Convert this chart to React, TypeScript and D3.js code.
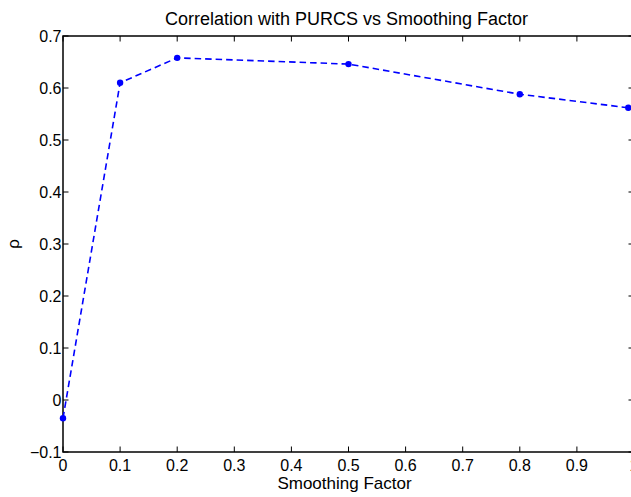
import React from "react";
import * as d3 from "d3";

const xValues = [0, 0.1, 0.2, 0.5, 0.8, 0.99];
const rhoValues = [-0.035, 0.61, 0.658, 0.646, 0.588, 0.562];
const xTicks = [0, 0.1, 0.2, 0.3, 0.4, 0.5, 0.6, 0.7, 0.8, 0.9, 1];
const yTicks = [-0.1, 0, 0.1, 0.2, 0.3, 0.4, 0.5, 0.6, 0.7];
const titleText = "Correlation with PURCS vs Smoothing Factor";
const xLabelText = "Smoothing Factor";
const yLabelText = "ρ";

const W = 631;
const H = 497;
const L = 63;
const R = 634;
const T = 36;
const B = 452;
const TL = 5.5;
const FONT = "'Liberation Sans', Arial, Helvetica, sans-serif";

export default function App() {
  const x = d3.scaleLinear().domain([0, 1]).range([L, R]);
  const y = d3.scaleLinear().domain([-0.1, 0.7]).range([B, T]);
  const pts: [number, number][] = xValues.map((v, i) => [v, rhoValues[i]]);
  const line = d3
    .line<[number, number]>()
    .x((d) => x(d[0]))
    .y((d) => y(d[1]));
  const fmt = (v: number) => {
    const s = d3.format(".1f")(v);
    if (v === 0) return "0";
    if (v === 1) return "1";
    return s.replace("-", "\u2212");
  };
  return (
    <svg
      width={W}
      height={H}
      style={{ position: "absolute", left: 0, top: 0, background: "#fff" }}
      fontFamily={FONT}
    >
      <rect x={0} y={0} width={W} height={H} fill="#fff" />
      <g stroke="#000" strokeWidth={1}>
        {xTicks.map((t) => (
          <g key={"xt" + t}>
            <line x1={x(t)} x2={x(t)} y1={B} y2={B - TL} />
            <line x1={x(t)} x2={x(t)} y1={T} y2={T + TL} />
          </g>
        ))}
        {yTicks.map((t) => (
          <g key={"yt" + t}>
            <line x1={L} x2={L + TL} y1={y(t)} y2={y(t)} />
            <line x1={R} x2={R - TL} y1={y(t)} y2={y(t)} />
          </g>
        ))}
      </g>
      <rect
        x={L}
        y={T}
        width={R - L}
        height={B - T}
        fill="none"
        stroke="#000"
        strokeWidth={1.5}
      />
      <path
        d={line(pts) || ""}
        fill="none"
        stroke="#0000ff"
        strokeWidth={1.6}
        strokeDasharray="6.5,4"
      />
      {pts.map((p, i) => (
        <circle key={"p" + i} cx={x(p[0])} cy={y(p[1])} r={3.2} fill="#0000ff" />
      ))}
      <g fontSize={16} fill="#000">
        {xTicks.map((t) => (
          <text key={"xl" + t} x={x(t)} y={B + 19} textAnchor="middle">
            {fmt(t)}
          </text>
        ))}
        {yTicks.map((t) => (
          <text key={"yl" + t} x={L - 1.5} y={y(t) + 5.5} textAnchor="end">
            {fmt(t)}
          </text>
        ))}
      </g>
      <text x={(L + R) / 2 - 4} y={489} fontSize={17} textAnchor="middle" fill="#000">
        {xLabelText}
      </text>
      <text
        transform={`translate(19,${(T + B) / 2}) rotate(-90)`}
        fontSize={17}
        textAnchor="middle"
        fill="#000"
      >
        {yLabelText}
      </text>
      <text x={(L + R) / 2 - 2} y={25} fontSize={18} textAnchor="middle" fill="#000">
        {titleText}
      </text>
    </svg>
  );
}
